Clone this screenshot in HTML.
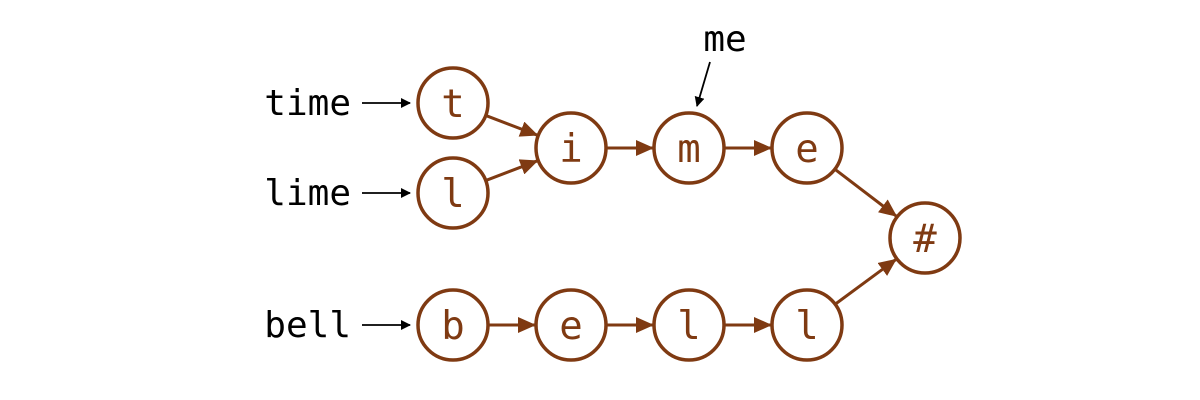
<!DOCTYPE html>
<html><head><meta charset="utf-8"><style>
html,body{margin:0;padding:0;background:#fff;width:1200px;height:400px;overflow:hidden}
text{font-family:"DejaVu Sans Mono","Liberation Mono",monospace;font-size:36px}
text.n{font-size:39px}
</style></head><body>
<svg width="1200" height="400">
<defs>
<marker id="ab" markerWidth="10" markerHeight="10" refX="9" refY="5" orient="auto" markerUnits="userSpaceOnUse"><path d="M0,0 L10,5 L0,10 z" fill="#000"/></marker>
<marker id="ar" markerWidth="18" markerHeight="16" refX="17" refY="8" orient="auto" markerUnits="userSpaceOnUse"><path d="M0,0 L18,8 L0,16 z" fill="#7f3a12"/></marker>
</defs>
<g id="g"></g>
</svg>
<script>
const nodeIds=['t','l1','i','m','e','h','b','e2','l2','l3'];
const nodeChars=['t','l','i','m','e','#','b','e','l','l'];
const nodeX=[453,453,571,689,807,925,453,571,689,807];
const nodeY=[103,193,148,148,148,238,325,325,325,325];
const edges=[['t','i'],['l1','i'],['i','m'],['m','e'],['e','h'],['b','e2'],['e2','l2'],['l2','l3'],['l3','h']];
const words=['time','lime','bell'];
const wordNode=['t','l1','b'];
const R=35, C='#7f3a12', NS='http://www.w3.org/2000/svg';
const g=document.getElementById('g');
function mk(t,a){const e=document.createElementNS(NS,t);for(const k in a)e.setAttribute(k,a[k]);g.appendChild(e);return e;}
const pos={};nodeIds.forEach((id,i)=>pos[id]=[nodeX[i],nodeY[i]]);
edges.forEach(([a,b])=>{const [x1,y1]=pos[a],[x2,y2]=pos[b];const dx=x2-x1,dy=y2-y1,d=Math.hypot(dx,dy),ux=dx/d,uy=dy/d;
const l=mk('line',{x1:x1+ux*(R+1),y1:y1+uy*(R+1),x2:x2-ux*(R+1),y2:y2-uy*(R+1),stroke:C,'stroke-width':3,'marker-end':'url(#ar)'});

});
nodeIds.forEach((id,i)=>{const c=mk('circle',{cx:nodeX[i],cy:nodeY[i],r:R,fill:'#fff',stroke:C,'stroke-width':3.5});


const t=mk('text',{x:nodeX[i],y:nodeY[i]+14,'text-anchor':'middle',fill:C,'class':'n'});t.textContent=nodeChars[i];

});
words.forEach((w,i)=>{const [x,y]=pos[wordNode[i]];
const t=mk('text',{x:351,y:y+12,'text-anchor':'end',fill:'#000'});t.textContent=w;


const l=mk('line',{x1:362,y1:y,x2:410,y2:y,stroke:'#000','stroke-width':1.8,'marker-end':'url(#ab)'});

});
const me=mk('text',{x:725,y:51,'text-anchor':'middle',fill:'#000'});me.textContent='me';


const ml=mk('line',{x1:710,y1:62,x2:697,y2:106,stroke:'#000','stroke-width':1.8,'marker-end':'url(#ab)'});


</script>
</body></html>
